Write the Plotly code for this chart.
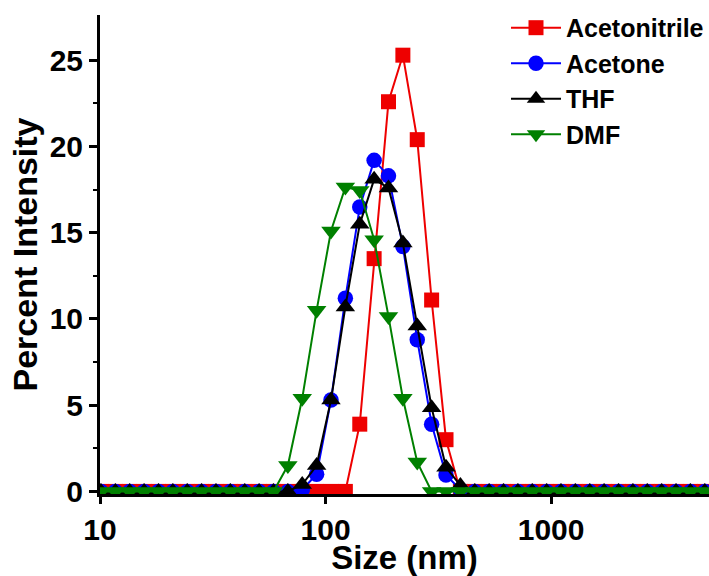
import plotly.graph_objects as go

# Malvern size bins (nm)
sizes = [0.4, 0.4632, 0.5365, 0.6213, 0.7195, 0.8332, 0.9649, 1.117, 1.294, 1.499,
         1.736, 2.010, 2.328, 2.696, 3.122, 3.615, 4.187, 4.849, 5.615, 6.503,
         7.531, 8.721, 10.10, 11.70, 13.54, 15.69, 18.17, 21.04, 24.36, 28.21,
         32.67, 37.84, 43.82, 50.75, 58.77, 68.06, 78.82, 91.28, 105.7, 122.4,
         141.8, 164.2, 190.1, 220.2, 255.0, 295.3, 342.0, 396.1, 458.7, 531.2,
         615.1, 712.4, 825.0, 955.4, 1106, 1281, 1484, 1718, 1990, 2305,
         2669, 3091, 3580, 4145, 4801, 5560, 6439, 7456, 8635, 10000]

# non-zero intensities keyed by size bin
acetonitrile_peak = {141.8: 3.9, 164.2: 13.5, 190.1: 22.6, 220.2: 25.3, 255.0: 20.4,
                     295.3: 11.1, 342.0: 3.0}
acetone_peak = {78.82: 0.1, 91.28: 1.0, 105.7: 5.3, 122.4: 11.2, 141.8: 16.5, 164.2: 19.2,
                190.1: 18.3, 220.2: 14.2, 255.0: 8.8, 295.3: 3.9, 342.0: 0.95, 396.1: 0.1}
thf_peak = {78.82: 0.4, 91.28: 1.5, 105.7: 5.3, 122.4: 10.7, 141.8: 15.5, 164.2: 18.1,
            190.1: 17.6, 220.2: 14.4, 255.0: 9.6, 295.3: 4.85, 342.0: 1.4, 396.1: 0.35}
dmf_peak = {68.06: 1.5, 78.82: 5.4, 91.28: 10.5, 105.7: 15.1, 122.4: 17.65, 141.8: 17.45,
            164.2: 14.6, 190.1: 10.15, 220.2: 5.4, 255.0: 1.7}

acetonitrile = [acetonitrile_peak.get(s, 0.0) for s in sizes]
acetone = [acetone_peak.get(s, 0.0) for s in sizes]
thf = [thf_peak.get(s, 0.0) for s in sizes]
dmf = [dmf_peak.get(s, 0.0) for s in sizes]

series = [
    ("Acetonitrile", acetonitrile, "#ee0000", "square", 15),
    ("Acetone", acetone, "#0000ff", "circle", 15.5),
    ("THF", thf, "#000000", "triangle-up", 17),
    ("DMF", dmf, "#008000", "triangle-down", 17),
]

FONT = "Liberation Sans, Arial, sans-serif"

fig = go.Figure()
for name, vals, color, sym, sz in series:
    fig.add_trace(go.Scatter(
        x=sizes, y=vals, name=name, mode="lines+markers",
        line=dict(color=color, width=2),
        marker=dict(symbol=sym, size=sz, color=color, line=dict(width=0)),
    ))

fig.update_layout(
    width=709, height=576,
    margin=dict(l=100, r=0, t=15, b=82, autoexpand=False),
    paper_bgcolor="white", plot_bgcolor="white",
    font=dict(family=FONT, color="black"),
    showlegend=True,
    legend=dict(x=1.0, y=1.021, xanchor="right", yanchor="top",
                font=dict(family=FONT, size=25, weight="bold", color="black"),
                bgcolor="rgba(0,0,0,0)", itemwidth=50, tracegroupgap=0),
)

fig.update_xaxes(
    type="log", range=[1.0, 3.70],
    showgrid=False, zeroline=False,
    showline=True, linecolor="black", linewidth=3,
    ticks="outside", ticklen=7, tickwidth=3, tickcolor="black",
    tickvals=[10, 100, 1000], ticktext=["10", "100", "1000"],
    tickfont=dict(family=FONT, size=30, weight="bold", color="black"),
    title=dict(text="Size (nm)", font=dict(family=FONT, size=33, weight="bold", color="black"),
               standoff=4),
)
fig.update_yaxes(
    range=[-0.15, 27.63],
    showgrid=False, zeroline=False,
    showline=True, linecolor="black", linewidth=3,
    ticks="outside", ticklen=8, tickwidth=3, tickcolor="black",
    tickvals=[0, 5, 10, 15, 20, 25],
    minor=dict(tickvals=[2.5, 7.5, 12.5, 17.5, 22.5], ticks="outside", ticklen=4,
               tickwidth=2, tickcolor="black"),
    tickfont=dict(family=FONT, size=30, weight="bold", color="black"),
    title=dict(text="Percent Intensity", font=dict(family=FONT, size=34, weight="bold", color="black"),
               standoff=2),
)

fig.write_html("out.html")
